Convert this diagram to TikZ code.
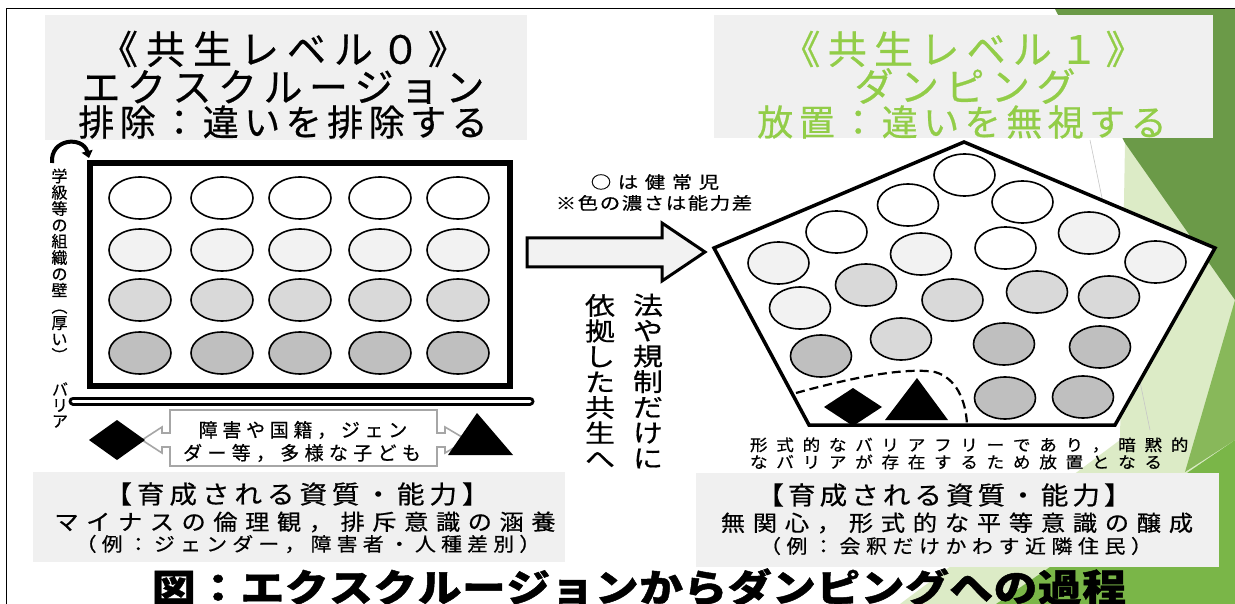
\documentclass[tikz,border=0pt]{standalone}
\usepackage{fontspec}
\usepackage{graphicx}
\setmainfont[FakeBold=0.6]{Noto Sans CJK JP}
\newfontfamily\jpA[FakeStretch=1.1, FakeBold=0.6]{Noto Sans CJK JP}
\newfontfamily\jpB[FakeStretch=1.2, FakeBold=0.6]{Noto Sans CJK JP}
\newfontfamily\jpC[FakeStretch=1.1, FakeBold=0.6]{Noto Sans CJK JP}
\newfontfamily\capfont[FakeStretch=1.15, BoldFeatures={FakeBold=1.2}]{Noto Sans CJK JP}
\usetikzlibrary{arrows.meta}
\definecolor{boxgray}{HTML}{F0F0F0}
\definecolor{lev1}{HTML}{92CD48}
\definecolor{dkgreen}{HTML}{6B9A48}
\definecolor{brgreen}{HTML}{7AB648}
\definecolor{palegreen}{HTML}{DCEBC6}
\definecolor{midgreen}{HTML}{88B85A}
\definecolor{cfill1}{HTML}{F2F2F2}
\definecolor{cfill2}{HTML}{D9D9D9}
\definecolor{cfill3}{HTML}{BFBFBF}
\definecolor{calloutgray}{HTML}{A6A6A6}
\def\lspamt{0pt}
\def\lspx#1{\ifx#1\relax\else#1\hspace{\lspamt}\expandafter\lspx\fi}
\newcommand\lsp[2]{\def\lspamt{#1}\lspx#2\relax\unskip}
\newcommand\fs[1]{\fontsize{#1}{#1}\selectfont}
\newcommand\vfont[2]{\fontsize{#1}{#2}\selectfont\lineskiplimit -50pt\relax}
\newcommand\vfontB[2]{\jpB\fontsize{#1}{#2}\selectfont\lineskiplimit -50pt\relax}
\tikzset{
  txt/.style={inner sep=0pt, outer sep=0pt, anchor=center},
  kid/.style={draw=black, line width=1.6pt},
  graybox/.style={fill=boxgray},
}
\begin{document}
\begin{tikzpicture}[x=1pt,y=-1pt]
\useasboundingbox (0,0) rectangle (1235,604);
\fill[white] (0,0) rectangle (1235,604);
% decoration on the right
\fill[palegreen] (1125,143) -- (1235,290) -- (1235,440) -- (996,604) -- (900,604) -- (1120,440) -- cycle;
\fill[dkgreen] (1055,9) -- (1235,9) -- (1235,300) -- (1125,143) -- cycle;
\fill[midgreen] (1235,300) -- (1235,440) -- (1185,472) -- cycle;
\fill[brgreen] (996,604) -- (1235,440) -- (1235,604) -- cycle;
\draw[gray!45, line width=0.6pt] (1090,140) -- (1150,430);
% frame
\draw[line width=1.5pt] (6.5,604) -- (6.5,8.5) -- (1235,8.5);
% gray boxes
\fill[graybox] (45,15) rectangle (527,140);
\fill[graybox] (714,15) rectangle (1213,138);
\fill[graybox] (33,472) rectangle (565,562);
\fill[graybox] (696,473) rectangle (1219,567);
% titles
\node[txt] (t0a) at (283,49) {\fs{39}\lsp{8pt}{《共生レベル０》}};
\node[txt] (t0b) at (283,87) {\fs{39}\lsp{6.5pt}{エクスクルージョン}};
\node[txt] (t0c) at (283,122) {\fs{36}\lsp{5.5pt}{排除：違いを排除する}};
\node[txt, text=lev1] (t1a) at (963,49) {\fs{39}\lsp{7.3pt}{《共生レベル１》}};
\node[txt, text=lev1] (t1b) at (965,86) {\fs{39}\lsp{6.5pt}{ダンピング}};
\node[txt, text=lev1] (t1c) at (962,122) {\fs{36}\lsp{5.5pt}{放置：違いを無視する}};
% wall (level 0)
\draw[line width=5.5pt] (90,163) rectangle (510,386);
\foreach \y/\c in {198/white,250/cfill1,300/cfill2,353/cfill3}{
  \foreach \x in {140,222,300,380,458}{
    \filldraw[kid, fill=\c] (\x,\y) ellipse [x radius=31pt, y radius=21pt];
  }
}
\draw[line width=4pt, -{Triangle[length=7pt,width=11pt]}] (52,163) .. controls (50,138) and (83,136) .. (89,158);
\node[txt, align=center, font={\vfont{16}{16.3}}] (walltxt) at (59.5,265) {学\\級\\等\\の\\組\\織\\の\\壁\\︵\\厚\\い\\︶};
\node[txt, align=center, font={\vfont{16}{15.8}}] (bartxt) at (60,405) {バ\\リ\\ア};
% barrier
\draw[double=white, double distance=3pt, line width=3pt, line cap=round] (73,401) -- (530,401);
% callout
\filldraw[draw=calloutgray, fill=white, line width=1.6pt, line join=miter]
 (170,410) -- (437,410) -- (437,433) -- (445,433) -- (445,427) -- (467,440) -- (445,453) -- (445,447) -- (437,447) -- (437,466)
 -- (170,466) -- (170,447) -- (162,447) -- (162,453) -- (142,440) -- (162,427) -- (162,433) -- (170,433) -- cycle;
\node[txt] (cl1) at (303,430) {\fs{19}\lsp{4.7pt}{障害や国籍，ジェン}};
\node[txt] (cl2) at (302,453) {\fs{19}\lsp{5.3pt}{ダー等，多様な子ども}};
\fill[black] (89,440) -- (117,420) -- (145,440) -- (117,460) -- cycle;
\fill[black] (477,413) -- (448,455) -- (513,455) -- cycle;
% big arrow
\filldraw[fill=cfill1, draw=black, line width=3pt, line join=miter]
 (527,238) -- (662,238) -- (662,223) -- (705,252) -- (662,281) -- (662,267) -- (527,267) -- cycle;
\node[txt] (leg1) at (655,182) {\jpB\fs{17}\lsp{6.6pt}{○は健常児}};
\node[txt] (leg2) at (654,203) {\jpB\fs{17}\lsp{1.6pt}{※色の濃さは能力差}};
\node[txt, align=center, font={\vfontB{25}{25.5}}] (law) at (648,381) {法\\や\\規\\制\\だ\\け\\に};
\node[txt, align=center, font={\vfontB{25}{25.5}}] (dep) at (600,381) {依\\拠\\し\\た\\共\\生\\へ};
% pentagon (level 1)
\filldraw[fill=white, draw=black, line width=3.5pt, line join=miter]
 (964,142) -- (714,248) -- (809,425) -- (1115,425) -- (1215,248) -- cycle;
\foreach \x/\y/\c in {964.5/175/white, 908/205/white, 1022.5/202/white, 836.5/232/white, 1089/233/cfill1,
  778.5/263/cfill1, 921/254/cfill1, 1005.5/248/white, 1155.5/262/cfill1, 866/285/cfill2, 952.5/300/cfill2,
  1037/292/cfill2, 1109/297/cfill2, 800/308/cfill1, 901/339/cfill2, 821/356/cfill3, 1004/344/cfill3,
  1100/347/cfill3, 1005/398/cfill3, 1083/397/cfill3}{
  \filldraw[kid, fill=\c] (\x,\y) ellipse [x radius=30.5pt, y radius=21pt];
}
\draw[line width=2.2pt, dash pattern=on 9pt off 5pt] (796,393) .. controls (850,378) and (905,367) .. (935,372) .. controls (956,378) and (966,400) .. (967,425);
\fill[black] (824,407) -- (853,388) -- (882,407) -- (853,426) -- cycle;
\fill[black] (917,378) -- (885,420) -- (948,420) -- cycle;
\node[txt, anchor=west] (note1) at (750,445) {\jpC\fs{16}\lsp{8.7pt}{形式的なバリアフリーであり，暗黙的}};
\node[txt, anchor=west] (note2) at (750,462) {\jpC\fs{16}\lsp{8.7pt}{なバリアが存在するため放置となる}};
% bottom boxes text
\node[txt] (q0a) at (297,494) {\jpA\fs{25}\lsp{5pt}{【育成される資質・能力】}};
\node[txt] (q0b) at (305,522) {\jpA\fs{22}\lsp{7.6pt}{マイナスの倫理観，排斥意識の涵養}};
\node[txt] (q0c) at (308,544) {\jpA\fs{19}\lsp{5.2pt}{（例：ジェンダー，障害者・人種差別）}};
\node[txt] (q1a) at (944,495) {\jpA\fs{25}\lsp{4.1pt}{【育成される資質・能力】}};
\node[txt] (q1b) at (957,523) {\jpA\fs{22}\lsp{7.8pt}{無関心，形式的な平等意識の醸成}};
\node[txt] (q1c) at (956,546) {\jpA\fs{19}\lsp{5.6pt}{（例：会釈だけかわす近隣住民）}};
% caption
\node[txt] (cap) at (639,587) {\capfont\bfseries\fs{38}\lsp{0.6pt}{図：エクスクルージョンからダンピングへの過程}};
\end{tikzpicture}
\end{document}
